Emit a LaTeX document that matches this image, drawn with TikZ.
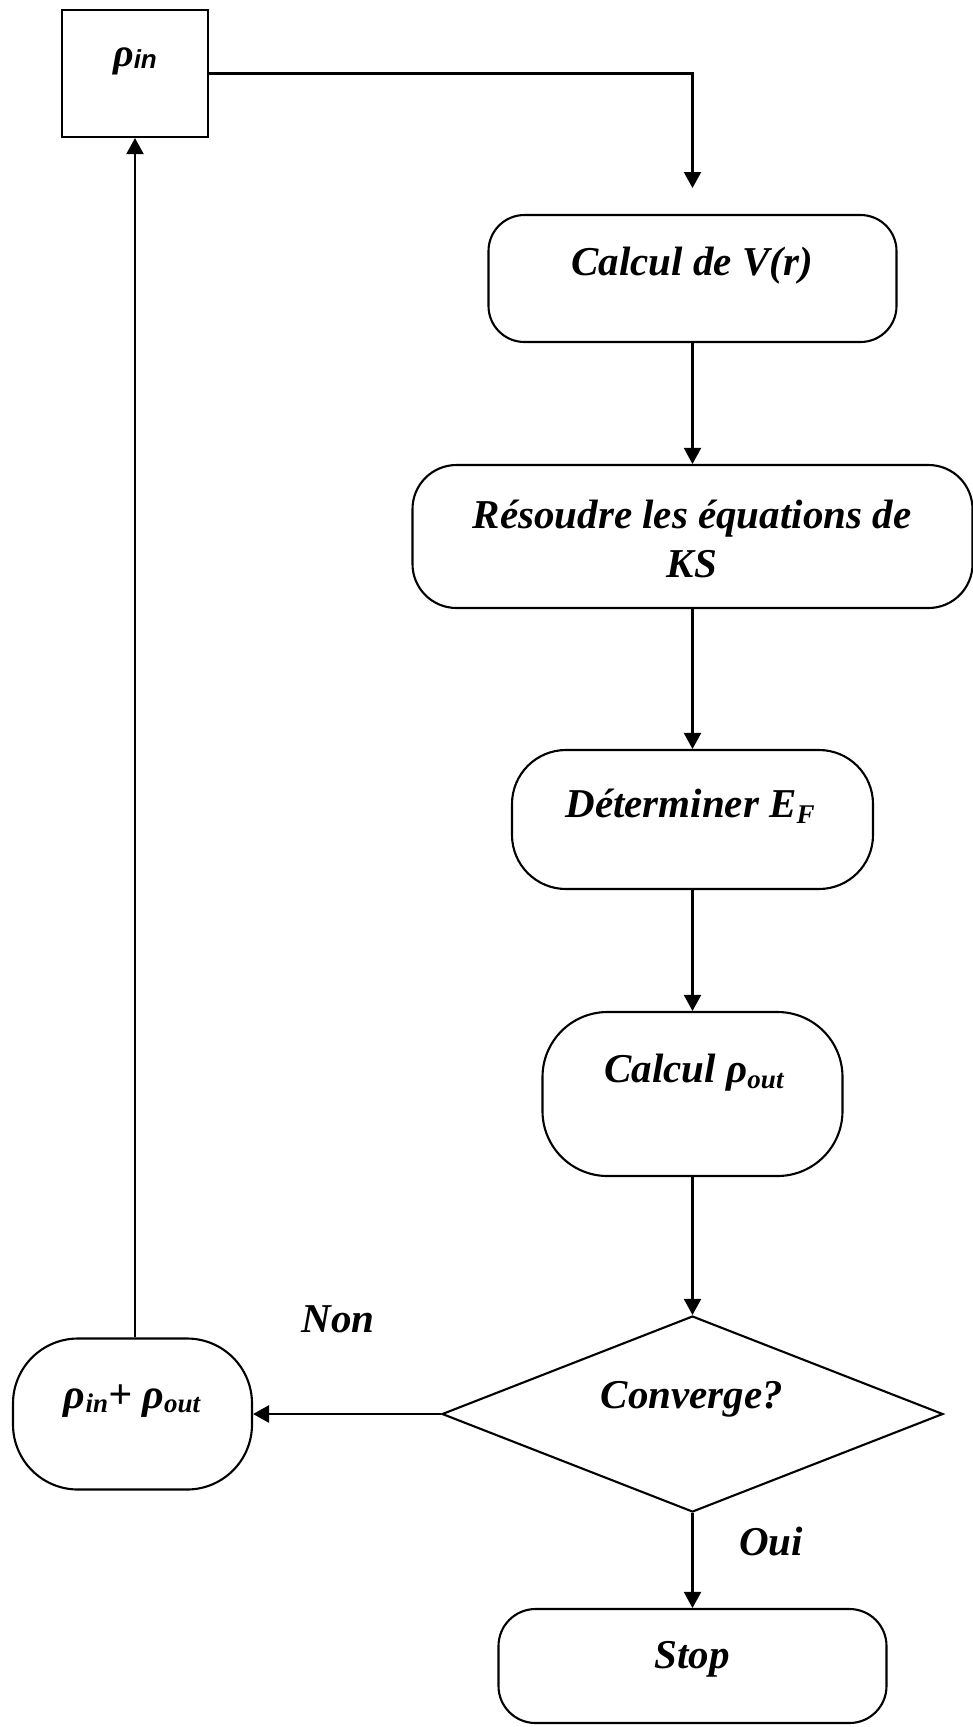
\documentclass[tikz,border=0pt]{standalone}
\usepackage{fontspec}
\setmainfont{Liberation Serif}
\newfontfamily\sansb{Liberation Sans}
\usetikzlibrary{shapes.geometric,arrows.meta}
\newcommand{\lsub}[2][-5pt]{\raisebox{#1}{\fontsize{27pt}{27pt}\selectfont #2}}
\begin{document}
\begin{tikzpicture}[x=1pt,y=-1pt,
  rbox/.style={draw,line width=2.1pt,inner sep=0pt,rounded corners=#1},
  sqbox/.style={draw,line width=2.1pt,inner sep=0pt},
  dbox/.style={draw,line width=2.1pt,inner sep=0pt,shape=diamond},
  lbl/.style={inner sep=0pt,anchor=base,font=\fontsize{41pt}{49pt}\selectfont\bfseries\itshape},
  conn/.style={line width=2.1pt,-{Triangle[width=17pt,length=16pt]}}
]
\useasboundingbox (0,0) rectangle (972,1727);

% shapes
\node[sqbox,minimum width=146pt,minimum height=127pt] (rin) at (135,73.5) {};
\node[rbox=36pt,minimum width=408pt,minimum height=127pt] (V) at (692.5,278.5) {};
\node[rbox=44pt,minimum width=560pt,minimum height=143pt] (KS) at (692.5,536.5) {};
\node[rbox=54pt,minimum width=361pt,minimum height=139pt] (EF) at (692.5,819.5) {};
\node[rbox=65pt,minimum width=300pt,minimum height=164pt] (rout) at (692.5,1094) {};
\node[dbox,minimum width=501pt,minimum height=196pt] (dia) at (692.5,1414) {};
\node[rbox=65pt,minimum width=239pt,minimum height=151pt] (sum) at (132.5,1414) {};
\node[rbox=37pt,minimum width=388pt,minimum height=114pt] (stop) at (692.5,1666) {};

% texts
\node[lbl,font=\fontsize{40pt}{44pt}\selectfont\bfseries\itshape] (trin) at (135,66) {ρ\lsub[-2pt]{\sansb\fontsize{26pt}{26pt}\selectfont\bfseries\itshape in}};
\node[lbl] (tV) at (692,275) {Calcul de V(r)};
\node[lbl] (tKS1) at (692,528) {Résoudre les équations de};
\node[lbl] (tKS2) at (692,577) {KS};
\node[lbl] (tEF) at (690,817) {Déterminer E\lsub[-6pt]{F}};
\node[lbl] (trout) at (694,1082) {Calcul ρ\lsub[-6pt]{out}};
\node[lbl] (tdia) at (692,1408) {Converge?};
\node[lbl,font=\fontsize{42pt}{46pt}\selectfont\bfseries\itshape] (tsum) at (132,1408) {ρ\lsub[-4pt]{in}+ ρ\lsub[-4pt]{out}};
\node[lbl] (tnon) at (338,1332) {Non};
\node[lbl] (toui) at (771,1555) {Oui};
\node[lbl] (tstop) at (692,1668) {Stop};

% connectors
\coordinate (cV) at (692.5,188);
\draw[conn] (rin.east) -| (cV);
\draw[conn] (V.south) -- (KS.north);
\draw[conn] (KS.south) -- (EF.north);
\draw[conn] (EF.south) -- (rout.north);
\draw[conn] (rout.south) -- (dia.north);
\draw[conn] (dia.south) -- (stop.north);
\draw[conn,line width=2.8pt] (dia.west) -- (sum.east);
\draw[conn] (sum.north -| rin.south) -- (rin.south);
\end{tikzpicture}
\end{document}
